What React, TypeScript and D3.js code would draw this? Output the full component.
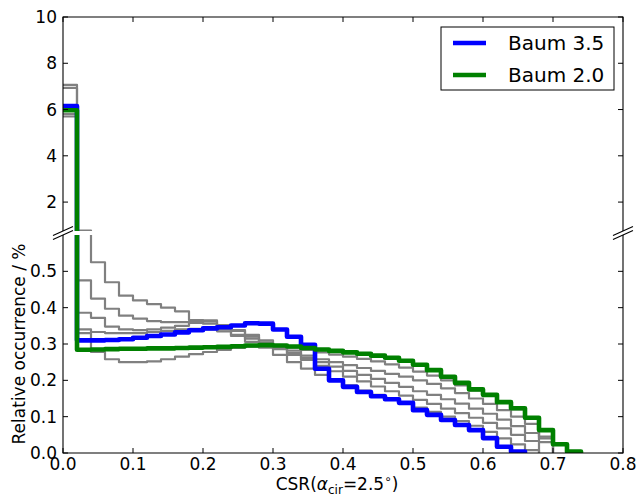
import React from 'react';
import * as d3 from 'd3';

const binWidth = 0.02;
const xTicks = [0, 0.1, 0.2, 0.3, 0.4, 0.5, 0.6, 0.7, 0.8];
const topTicks = [2, 4, 6, 8, 10];
const bottomTicks = [0, 0.1, 0.2, 0.3, 0.4, 0.5];
const legendLabels = ['Baum 3.5', 'Baum 2.0'];

const baum35 = [6.15, 0.31, 0.31, 0.311, 0.313, 0.317, 0.322, 0.326, 0.332, 0.338, 0.343, 0.346, 0.351, 0.357, 0.356, 0.34, 0.32, 0.298, 0.232, 0.2, 0.182, 0.168, 0.156, 0.148, 0.138, 0.118, 0.105, 0.091, 0.077, 0.063, 0.041, 0.017, 0.004];
const baum20 = [5.97, 0.284, 0.285, 0.286, 0.287, 0.287, 0.288, 0.288, 0.289, 0.29, 0.291, 0.292, 0.294, 0.296, 0.297, 0.296, 0.293, 0.289, 0.285, 0.281, 0.277, 0.273, 0.268, 0.262, 0.254, 0.243, 0.228, 0.21, 0.193, 0.175, 0.16, 0.14, 0.123, 0.097, 0.063, 0.024, 0.004];
const grayA = [7.07, 0.77, 0.525, 0.47, 0.433, 0.42, 0.41, 0.4, 0.39, 0.366, 0.356, 0.34, 0.322, 0.306, 0.29, 0.27, 0.25, 0.232, 0.215, 0.2, 0.186, 0.172, 0.16, 0.15, 0.138, 0.125, 0.113, 0.1, 0.088, 0.075, 0.058, 0.04, 0.024, 0.008];
const grayB = [6.94, 0.475, 0.425, 0.397, 0.378, 0.37, 0.363, 0.36, 0.36, 0.362, 0.362, 0.352, 0.336, 0.32, 0.304, 0.286, 0.27, 0.256, 0.24, 0.225, 0.21, 0.197, 0.183, 0.17, 0.158, 0.146, 0.135, 0.122, 0.11, 0.097, 0.083, 0.068, 0.05, 0.033];
const grayC = [5.8, 0.386, 0.372, 0.348, 0.34, 0.338, 0.34, 0.345, 0.35, 0.358, 0.365, 0.35, 0.338, 0.325, 0.31, 0.296, 0.282, 0.268, 0.258, 0.25, 0.242, 0.234, 0.226, 0.218, 0.21, 0.2, 0.19, 0.178, 0.165, 0.15, 0.135, 0.118, 0.1, 0.08, 0.045];
const grayD = [5.7, 0.34, 0.333, 0.33, 0.33, 0.33, 0.333, 0.336, 0.34, 0.342, 0.34, 0.335, 0.325, 0.315, 0.304, 0.29, 0.275, 0.262, 0.25, 0.238, 0.226, 0.215, 0.204, 0.193, 0.182, 0.17, 0.16, 0.148, 0.136, 0.122, 0.108, 0.092, 0.074, 0.055, 0.03];
const grayE = [6.05, 0.33, 0.278, 0.258, 0.25, 0.25, 0.252, 0.258, 0.265, 0.272, 0.278, 0.284, 0.289, 0.293, 0.296, 0.295, 0.29, 0.284, 0.277, 0.271, 0.265, 0.259, 0.252, 0.244, 0.235, 0.224, 0.213, 0.2, 0.186, 0.172, 0.157, 0.14, 0.12, 0.097, 0.04];

const grays = [grayA, grayB, grayC, grayD, grayE];

const W = 639;
const H = 495;
const L = 63;
const R = 623;
const TOP0 = 17;
const TOP1 = 231;
const BOT0 = 235;
const BOT1 = 453;

const x = d3.scaleLinear().domain([0, 0.8]).range([L, R]);
const yTop = d3.scaleLinear().domain([0.75, 10]).range([TOP1, TOP0]);
const yBot = d3.scaleLinear().domain([0, 0.6]).range([BOT1, BOT0]);

function stepPoints(vals: number[]): [number, number][] {
  const pts: [number, number][] = [];
  vals.forEach((v, k) => {
    pts.push([k * binWidth, v]);
    pts.push([(k + 1) * binWidth, v]);
  });
  pts.push([vals.length * binWidth, 0]);
  return pts;
}

function makePath(vals: number[], y: d3.ScaleLinear<number, number>) {
  const line = d3
    .line<[number, number]>()
    .x((d) => x(d[0]))
    .y((d) => y(d[1]));
  return line(stepPoints(vals)) || '';
}

const FONT = 'DejaVu Sans, sans-serif';
const TICK = 5;

function Panel({ y, clipId }: { y: d3.ScaleLinear<number, number>; clipId: string }) {
  return (
    <g clipPath={`url(#${clipId})`}>
      {grays.map((g, i) => (
        <path key={i} d={makePath(g, y)} fill="none" stroke="#808080" strokeWidth={2.2} strokeLinejoin="round" />
      ))}
      <path d={makePath(baum35, y)} fill="none" stroke="#0000ff" strokeWidth={4.6} strokeLinejoin="round" />
      <path d={makePath(baum20, y)} fill="none" stroke="#008000" strokeWidth={4.6} strokeLinejoin="round" />
    </g>
  );
}

export default function App() {
  return (
    <svg
      width={W}
      height={H}
      style={{ position: 'absolute', left: 0, top: 0, background: '#fff' }}
      fontFamily={FONT}
    >
      <rect x={0} y={0} width={W} height={H} fill="#fff" />
      <defs>
        <clipPath id="clipTop">
          <rect x={L} y={TOP0} width={R - L} height={TOP1 - TOP0} />
        </clipPath>
        <clipPath id="clipBot">
          <rect x={L} y={BOT0} width={R - L} height={BOT1 - BOT0} />
        </clipPath>
      </defs>

      <Panel y={yTop} clipId="clipTop" />
      <Panel y={yBot} clipId="clipBot" />

      {/* spines */}
      <g stroke="#000" strokeWidth={1.1} fill="none">
        <path d={`M${L},${TOP1}V${TOP0}H${R}V${TOP1}`} />
        <path d={`M${L},${BOT0}V${BOT1}H${R}V${BOT0}`} />
      </g>

      {/* break marks */}
      <g stroke="#000" strokeWidth={1.1}>
        {[L, R].map((cx) =>
          [TOP1, BOT0].map((cy) => (
            <line key={`${cx}-${cy}`} x1={cx - 10} y1={cy + 4.5} x2={cx + 10} y2={cy - 4.5} />
          ))
        )}
      </g>

      {/* ticks */}
      <g stroke="#000" strokeWidth={1}>
        {topTicks.map((t) => (
          <g key={`tt${t}`}>
            <line x1={L} x2={L + TICK} y1={yTop(t)} y2={yTop(t)} />
            <line x1={R} x2={R - TICK} y1={yTop(t)} y2={yTop(t)} />
          </g>
        ))}
        {bottomTicks.map((t) => (
          <g key={`bt${t}`}>
            <line x1={L} x2={L + TICK} y1={yBot(t)} y2={yBot(t)} />
            <line x1={R} x2={R - TICK} y1={yBot(t)} y2={yBot(t)} />
          </g>
        ))}
        {xTicks.map((t) => (
          <g key={`xt${t}`}>
            <line x1={x(t)} x2={x(t)} y1={BOT1} y2={BOT1 - TICK} />
            <line x1={x(t)} x2={x(t)} y1={TOP0} y2={TOP0 + TICK} />
          </g>
        ))}
      </g>

      {/* tick labels */}
      <g fontSize={17} fill="#000">
        {topTicks.map((t) => (
          <text key={`tl${t}`} x={L - 6} y={yTop(t)} textAnchor="end" dominantBaseline="central">
            {String(t)}
          </text>
        ))}
        {bottomTicks.map((t) => (
          <text key={`bl${t}`} x={L - 6} y={yBot(t)} textAnchor="end" dominantBaseline="central">
            {t.toFixed(1)}
          </text>
        ))}
        {xTicks.map((t) => (
          <text key={`xl${t}`} x={x(t)} y={470} textAnchor="middle">
            {t.toFixed(1)}
          </text>
        ))}
      </g>

      {/* axis labels */}
      <text
        transform={`translate(25,${(BOT0 + BOT1) / 2}) rotate(-90)`}
        textAnchor="middle"
        fontSize={17}
        fill="#000"
      >
        Relative occurrence / %
      </text>
      <text x={337} y={490} textAnchor="middle" fontSize={17} fill="#000">
        CSR(
        <tspan fontStyle="italic">α</tspan>
        <tspan fontSize={12} dy={4}>cir</tspan>
        <tspan dy={-4}>=2.5</tspan>
        <tspan fontSize={12} dy={-7}>∘</tspan>
        <tspan dy={7}>)</tspan>
      </text>

      {/* legend */}
      <g>
        <rect x={441} y={27} width={173} height={63} fill="#fff" stroke="#000" strokeWidth={1} />
        {legendLabels.map((lab, i) => {
          const cy = 43 + i * 32;
          const col = i === 0 ? '#0000ff' : '#008000';
          return (
            <g key={lab}>
              <line x1={453} x2={486} y1={cy} y2={cy} stroke={col} strokeWidth={4.6} />
              <text x={508} y={cy} dominantBaseline="central" fontSize={20} fill="#000">
                {lab}
              </text>
            </g>
          );
        })}
      </g>
    </svg>
  );
}
